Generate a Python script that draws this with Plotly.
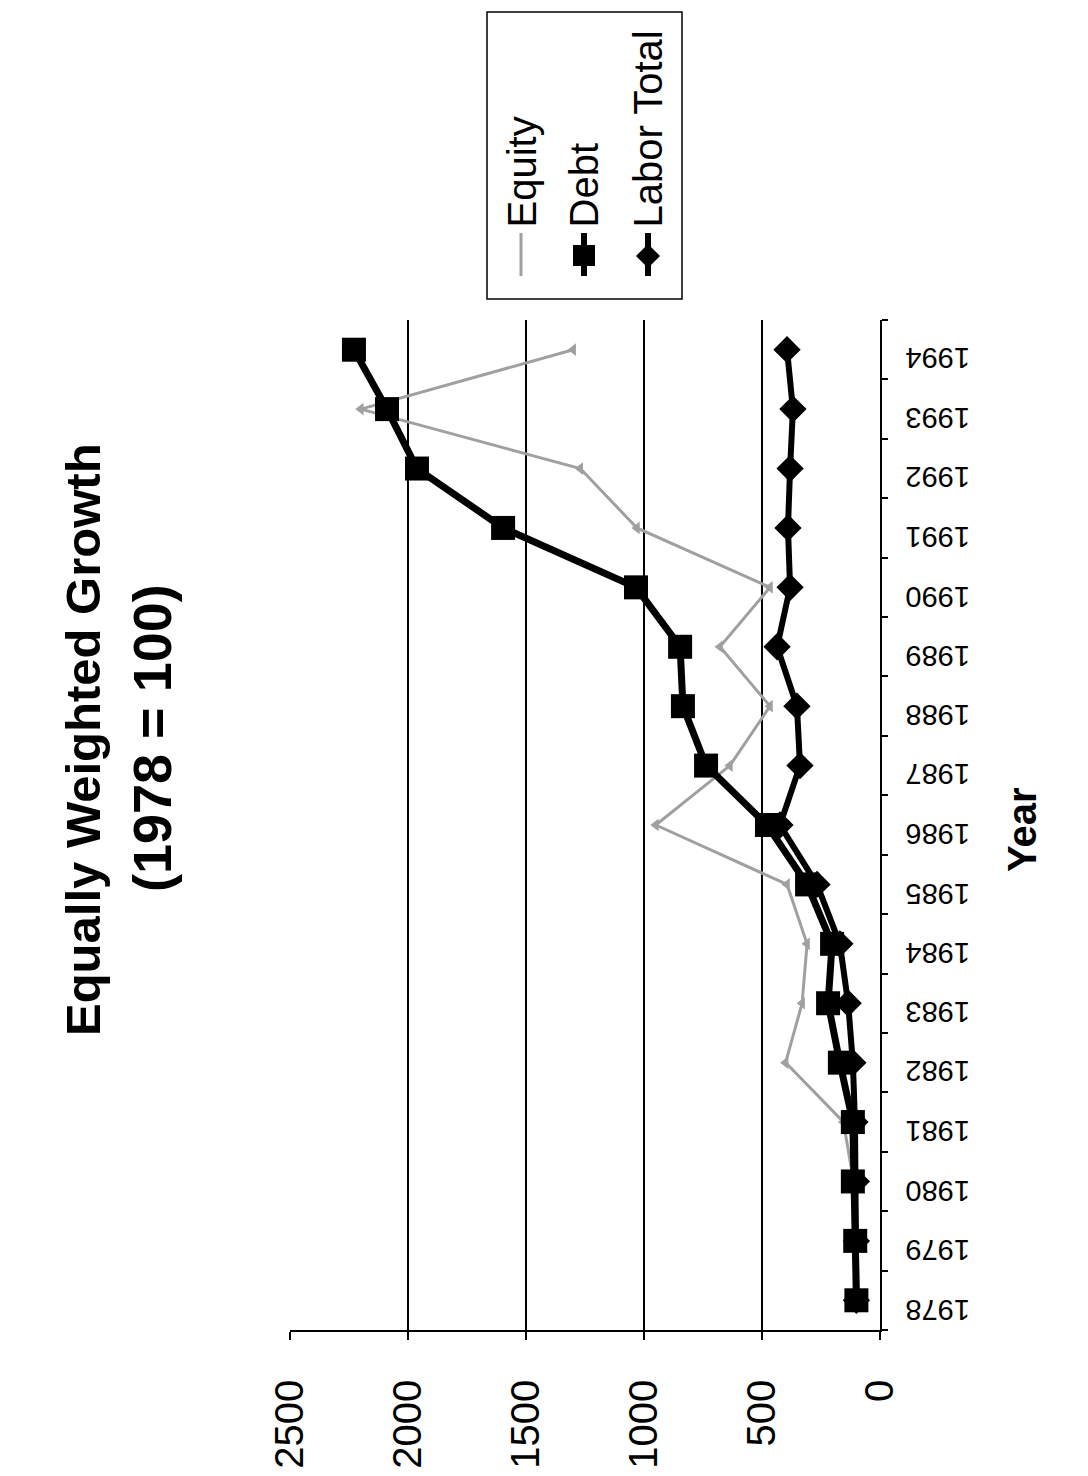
import plotly.graph_objects as go

# Index values, 1978 = 100
years = [str(y) for y in range(1978, 1995)]
equity = [100, 105, 112, 155, 400, 330, 309, 394, 950, 636, 466, 678, 466, 1030, 1270, 2200, 1300]
debt = [100, 105, 115, 115, 170, 220, 203, 309, 479, 737, 835, 847, 1034, 1597, 1962, 2089, 2229]
labor = [100, 100, 100, 106, 115, 135, 170, 267, 424, 339, 352, 436, 381, 390, 381, 369, 394]

value_ticks = [0, 500, 1000, 1500, 2000, 2500]
series_names = ["Equity", "Debt", "Labor Total"]

W, H = 1088, 1476
L, R, T, B = 290, 880, 320, 1330  # plot area in pixels

FONT = "Liberation Sans, Arial, sans-serif"


def px(xp):
    return (xp - L) / (R - L)


def py(yp):
    return (B - yp) / (B - T)


fig = go.Figure()

fig.add_trace(go.Scatter(
    x=equity, y=years, name=series_names[0], mode="lines+markers",
    line=dict(color="#a0a0a0", width=3),
    marker=dict(symbol="triangle-left", size=11, color="#a0a0a0"),
))
fig.add_trace(go.Scatter(
    x=debt, y=years, name=series_names[1], mode="lines+markers",
    line=dict(color="black", width=7),
    marker=dict(symbol="square", size=24, color="black"),
))
fig.add_trace(go.Scatter(
    x=labor, y=years, name=series_names[2], mode="lines+markers",
    line=dict(color="black", width=6),
    marker=dict(symbol="diamond", size=21, color="black"),
))

fig.update_xaxes(
    range=[2500, 0], tickvals=value_ticks, ticktext=[str(v) for v in value_ticks],
    tickangle=-90, tickfont=dict(family=FONT, size=40, color="black"),
    showgrid=True, gridcolor="black", gridwidth=1.5,
    showline=True, linecolor="black", linewidth=1.5,
    ticks="outside", ticklen=8, tickcolor="black", tickwidth=1.5,
    ticklabelstandoff=24, zeroline=False,
)
fig.update_yaxes(
    type="category", categoryorder="array", categoryarray=years,
    range=[-0.5, 16.5], side="right", showticklabels=False,
    tickson="boundaries", ticks="outside", ticklen=6,
    tickcolor="black", tickwidth=1.5,
    showline=True, linecolor="black", linewidth=2,
    showgrid=False, zeroline=False,
)

annotations = [
    dict(text="<b>Equally Weighted Growth</b>", x=px(83), y=py(740),
         textangle=-90, font=dict(family=FONT, size=49, color="black")),
    dict(text="<b>(1978 = 100)</b>", x=px(152), y=py(738),
         textangle=-90, font=dict(family=FONT, size=54, color="black")),
    dict(text="<b>Year</b>", x=px(1022), y=py(830),
         textangle=-90, font=dict(family=FONT, size=40, color="black")),
]

# Year labels, written upside down beside the category axis
# (placed by category index along the year axis)
for i, yr in enumerate(years):
    annotations.append(dict(
        text=yr, x=px(938), y=i, yref="y", yshift=-9,
        textangle=180, font=dict(family=FONT, size=29, color="black"),
    ))

# Legend drawn sideways to read along the rotated layout
legend_cols = [522, 584, 648]
for name, cx in zip(series_names, legend_cols):
    annotations.append(dict(
        text=name, x=px(cx), y=py(230), xanchor="center", yanchor="bottom",
        textangle=-90, font=dict(family=FONT, size=40, color="black"),
    ))
for a in annotations:
    a.setdefault("yref", "paper")
    a.update(xref="paper", showarrow=False)
    a.setdefault("xanchor", "center")
    a.setdefault("yanchor", "middle")

shapes = [
    dict(type="rect", x0=px(487), x1=px(682), y0=py(12), y1=py(299),
         line=dict(color="black", width=1.5), fillcolor="white", layer="below"),
    dict(type="line", x0=px(521), x1=px(521), y0=py(233), y1=py(276),
         line=dict(color="#a0a0a0", width=3)),
    dict(type="line", x0=px(584), x1=px(584), y0=py(233), y1=py(276),
         line=dict(color="black", width=6)),
    dict(type="rect", x0=px(573), x1=px(595), y0=py(245), y1=py(266),
         line=dict(width=0), fillcolor="black"),
    dict(type="line", x0=px(648), x1=px(648), y0=py(233), y1=py(276),
         line=dict(color="black", width=6)),
]
# Diamond marker for the Labor Total sample
dcx, dcy, dr = 648, 256, 12
shapes.append(dict(
    type="path", xref="paper", yref="paper",
    path=(f"M {px(dcx)} {py(dcy - dr)} L {px(dcx + dr)} {py(dcy)} "
          f"L {px(dcx)} {py(dcy + dr)} L {px(dcx - dr)} {py(dcy)} Z"),
    line=dict(width=0), fillcolor="black",
))
for s in shapes:
    s.setdefault("xref", "paper")
    s.setdefault("yref", "paper")

fig.update_layout(
    width=W, height=H,
    margin=dict(l=L, r=W - R, t=T, b=H - B, autoexpand=False),
    paper_bgcolor="white", plot_bgcolor="white",
    showlegend=False,
    annotations=annotations, shapes=shapes,
)

fig.write_html("out.html")
